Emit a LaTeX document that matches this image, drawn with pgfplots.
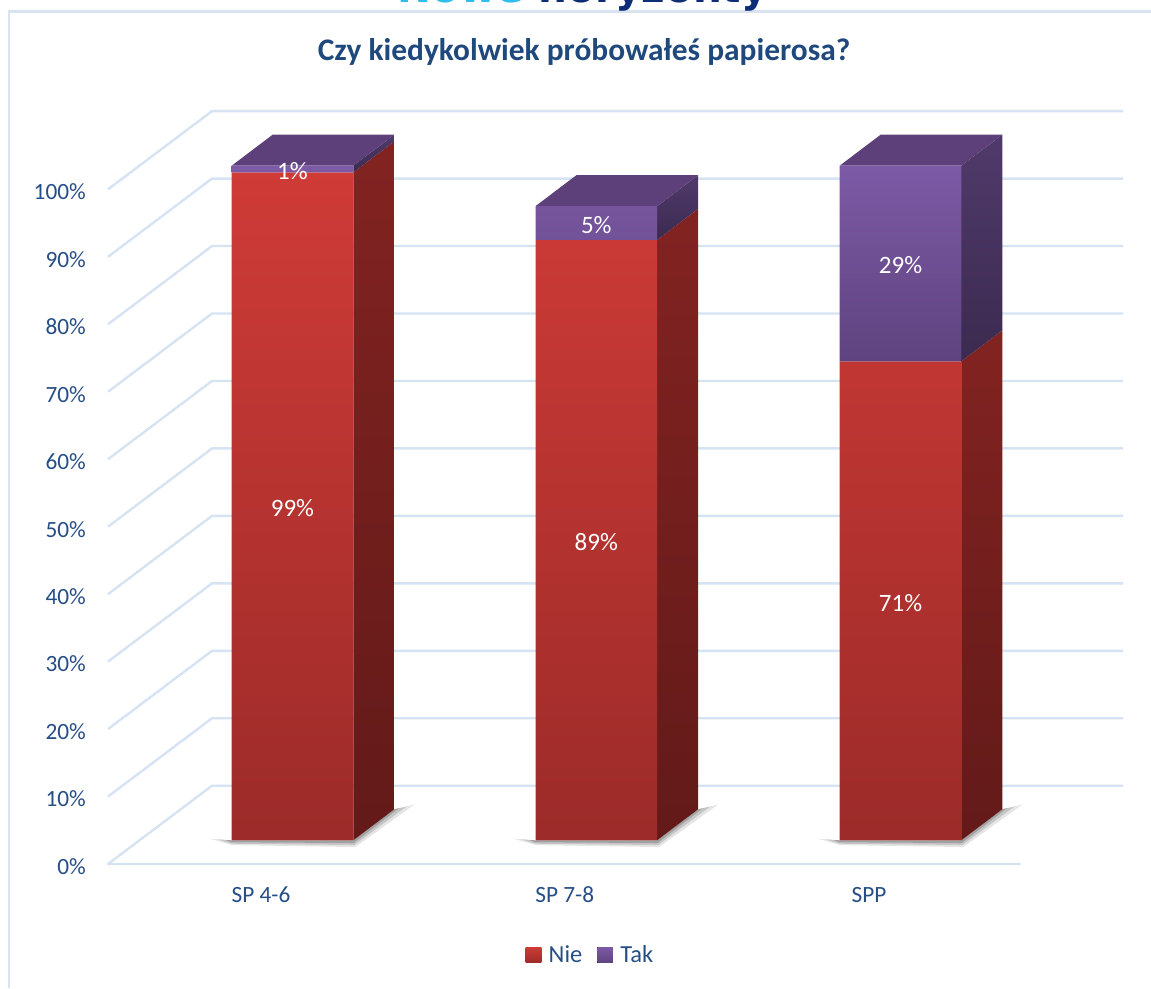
\documentclass[border=0pt]{standalone}
\usepackage{pgfplots}
\pgfplotsset{compat=1.18}
\usepackage{fontspec}
\setmainfont{Carlito}
\newfontfamily\nhfont{DejaVu Sans}
\definecolor{titleblue}{RGB}{31,73,125}
\definecolor{tickblue}{RGB}{37,78,134}
\definecolor{gridc}{RGB}{214,227,243}
\definecolor{framec}{RGB}{217,226,240}
\definecolor{redtop}{RGB}{207,59,55}
\definecolor{redbot}{RGB}{156,43,41}
\definecolor{redsidetop}{RGB}{130,35,33}
\definecolor{redsidebot}{RGB}{98,26,25}
\definecolor{purtop}{RGB}{125,90,166}
\definecolor{purbot}{RGB}{94,67,127}
\definecolor{pursidetop}{RGB}{80,58,107}
\definecolor{pursidebot}{RGB}{60,42,80}
\definecolor{purcap}{RGB}{93,64,122}
\definecolor{nhcyan}{RGB}{47,190,236}
\definecolor{nhnavy}{RGB}{13,46,117}
\pgfplotsset{sqlegend/.style={legend image code/.code={\fill[##1] (0pt,-7.8pt) rectangle (15.6pt,7.8pt); \path (21pt,0pt);}}}
\begin{document}
\begin{tikzpicture}
\begin{axis}[
  name=ax,
  width=1151pt, height=988pt, scale only axis,
  xmin=0, xmax=1151, ymin=-21.89, ymax=124.56,
  clip=false,
  axis line style={draw=none},
  major tick length=0pt,
  xtick={261,564.8,869},
  xticklabels={SP 4-6,SP 7-8,SPP},
  ytick={-3.51,6.49,16.49,26.49,36.49,46.49,56.49,66.49,76.49,86.49,96.49},
  yticklabels={0\%,10\%,20\%,30\%,40\%,50\%,60\%,70\%,80\%,90\%,100\%},
  yticklabel style={anchor=east, inner sep=0pt, xshift=86pt, yshift=-2.5pt},
  xticklabel style={anchor=center, inner sep=0pt, yshift=93pt},
  tick label style={font=\fontsize{23.3}{28}\selectfont, text=tickblue},
  every axis title shift=0pt,
  title={Czy kiedykolwiek próbowałeś papierosa?},
  title style={at={(0.5074,0.9386)}, anchor=base, inner sep=0pt,
    font=\bfseries\fontsize{31.4}{37}\selectfont, text=titleblue},
  legend style={at={(0.513,0.0334)}, anchor=center, draw=none, fill=none,
    legend columns=2, font=\fontsize{24.5}{29}\selectfont, text=tickblue,
    /tikz/every even column/.append style={column sep=13pt}},
]
% frame
\draw[framec, line width=2.4pt] (axis cs:9,-21.89) -- (axis cs:9,122.83) -- (axis cs:1151,122.83);
% cut-off heading
\node[anchor=base west, inner sep=0pt, font=\nhfont\bfseries\fontsize{40.6}{48}\selectfont]
  at (axis cs:397,124.26) {\textcolor{nhcyan}{Nowe} \textcolor{nhnavy}{horyzonty}};

% gridlines (left wall + back wall)
\addplot[gridc, line width=2.4pt, line join=round, forget plot] coordinates {(1020.7,-3.51) (108,-3.51) (212,8.09) (1123,8.09)};
\addplot[gridc, line width=2.4pt, line join=round, forget plot] coordinates {(108,6.49) (212,18.09) (1123,18.09)};
\addplot[gridc, line width=2.4pt, line join=round, forget plot] coordinates {(108,16.49) (212,28.09) (1123,28.09)};
\addplot[gridc, line width=2.4pt, line join=round, forget plot] coordinates {(108,26.49) (212,38.09) (1123,38.09)};
\addplot[gridc, line width=2.4pt, line join=round, forget plot] coordinates {(108,36.49) (212,48.09) (1123,48.09)};
\addplot[gridc, line width=2.4pt, line join=round, forget plot] coordinates {(108,46.49) (212,58.09) (1123,58.09)};
\addplot[gridc, line width=2.4pt, line join=round, forget plot] coordinates {(108,56.49) (212,68.09) (1123,68.09)};
\addplot[gridc, line width=2.4pt, line join=round, forget plot] coordinates {(108,66.49) (212,78.09) (1123,78.09)};
\addplot[gridc, line width=2.4pt, line join=round, forget plot] coordinates {(108,76.49) (212,88.09) (1123,88.09)};
\addplot[gridc, line width=2.4pt, line join=round, forget plot] coordinates {(108,86.49) (212,98.09) (1123,98.09)};
\addplot[gridc, line width=2.4pt, line join=round, forget plot] coordinates {(108,96.49) (212,108.09) (1123,108.09)};

% soft shadows on the floor
\addplot[draw=none, fill=black, fill opacity=0.10, forget plot] coordinates {(209.7,0.25) (231.7,-0.7) (355.3,-1.0) (414.3,5.3) (394.3,4.6) (353.3,0) (231.7,0)} -- cycle;
\addplot[draw=none, fill=black, fill opacity=0.14, forget plot] coordinates {(217.7,0.15) (231.7,-0.5) (354.3,-0.7) (406.3,5.0) (394.3,4.6) (353.3,0) (231.7,0)} -- cycle;
\addplot[draw=none, fill=black, fill opacity=0.18, forget plot] coordinates {(225.7,0.05) (231.7,-0.3) (353.8,-0.4) (399.3,4.8) (394.3,4.6) (353.3,0) (231.7,0)} -- cycle;
\addplot[draw=none, fill=black, fill opacity=0.10, forget plot] coordinates {(513.5,0.25) (535.5,-0.7) (659.1,-1.0) (718.1,5.3) (698.1,4.6) (657.1,0) (535.5,0)} -- cycle;
\addplot[draw=none, fill=black, fill opacity=0.14, forget plot] coordinates {(521.5,0.15) (535.5,-0.5) (658.1,-0.7) (710.1,5.0) (698.1,4.6) (657.1,0) (535.5,0)} -- cycle;
\addplot[draw=none, fill=black, fill opacity=0.18, forget plot] coordinates {(529.5,0.05) (535.5,-0.3) (657.6,-0.4) (703.1,4.8) (698.1,4.6) (657.1,0) (535.5,0)} -- cycle;
\addplot[draw=none, fill=black, fill opacity=0.10, forget plot] coordinates {(817.7,0.25) (839.7,-0.7) (963.3,-1.0) (1022.3,5.3) (1002.3,4.6) (961.3,0) (839.7,0)} -- cycle;
\addplot[draw=none, fill=black, fill opacity=0.14, forget plot] coordinates {(825.7,0.15) (839.7,-0.5) (962.3,-0.7) (1014.3,5.0) (1002.3,4.6) (961.3,0) (839.7,0)} -- cycle;
\addplot[draw=none, fill=black, fill opacity=0.18, forget plot] coordinates {(833.7,0.05) (839.7,-0.3) (961.8,-0.4) (1007.3,4.8) (1002.3,4.6) (961.3,0) (839.7,0)} -- cycle;

% SP 4-6 side and top faces
\addplot[draw=none, top color=redsidetop, bottom color=redsidebot, forget plot] coordinates {(353.3,0) (394.3,4.6) (394.3,103.6) (353.3,99)} -- cycle;
\addplot[draw=none, top color=pursidetop, bottom color=pursidebot, forget plot] coordinates {(353.3,99) (394.3,103.6) (394.3,104.6) (353.3,100)} -- cycle;
\addplot[draw=none, fill=purcap, forget plot] coordinates {(231.7,100) (272.7,104.6) (394.3,104.6) (353.3,100)} -- cycle;
% SP 7-8 side and top faces
\addplot[draw=none, top color=redsidetop, bottom color=redsidebot, forget plot] coordinates {(657.1,0) (698.1,4.6) (698.1,93.6) (657.1,89)} -- cycle;
\addplot[draw=none, top color=pursidetop, bottom color=pursidebot, forget plot] coordinates {(657.1,89) (698.1,93.6) (698.1,98.6) (657.1,94)} -- cycle;
\addplot[draw=none, fill=purcap, forget plot] coordinates {(535.5,94) (576.5,98.6) (698.1,98.6) (657.1,94)} -- cycle;
% SPP side and top faces
\addplot[draw=none, top color=redsidetop, bottom color=redsidebot, forget plot] coordinates {(961.3,0) (1002.3,4.6) (1002.3,75.6) (961.3,71)} -- cycle;
\addplot[draw=none, top color=pursidetop, bottom color=pursidebot, forget plot] coordinates {(961.3,71) (1002.3,75.6) (1002.3,104.6) (961.3,100)} -- cycle;
\addplot[draw=none, fill=purcap, forget plot] coordinates {(839.7,100) (880.7,104.6) (1002.3,104.6) (961.3,100)} -- cycle;

% front faces: stacked data
\addplot[ybar, stack plots=y, bar width=121.6, bar shift=0pt, draw=none,
  top color=redtop, bottom color=redbot, sqlegend]
  coordinates {(292.5,99) (596.3,89) (900.5,71)};
\addplot[ybar, stack plots=y, bar width=121.6, bar shift=0pt, draw=none,
  top color=purtop, bottom color=purbot, sqlegend]
  coordinates {(292.5,1) (596.3,5) (900.5,29)};
\legend{Nie,Tak}

% value labels
\node[text=white, inner sep=0pt, anchor=center, font=\fontsize{25}{30}\selectfont] at (axis cs:292.5,49.2) {99\%};
\node[text=white, inner sep=0pt, anchor=center, font=\fontsize{25}{30}\selectfont] at (axis cs:292.5,99.2) {1\%};
\node[text=white, inner sep=0pt, anchor=center, font=\fontsize{25}{30}\selectfont] at (axis cs:596.3,44.2) {89\%};
\node[text=white, inner sep=0pt, anchor=center, font=\fontsize{25}{30}\selectfont] at (axis cs:596.3,91.2) {5\%};
\node[text=white, inner sep=0pt, anchor=center, font=\fontsize{25}{30}\selectfont] at (axis cs:900.5,35.2) {71\%};
\node[text=white, inner sep=0pt, anchor=center, font=\fontsize{25}{30}\selectfont] at (axis cs:900.5,85.2) {29\%};
\end{axis}
\pgfresetboundingbox
\path[use as bounding box] (ax.south west) rectangle (ax.north east);
\end{tikzpicture}
\end{document}
